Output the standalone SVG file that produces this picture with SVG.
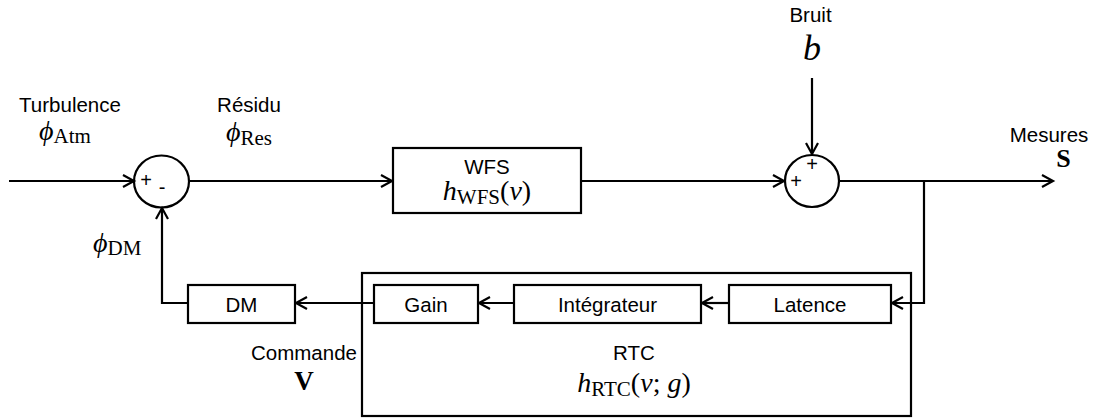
<svg xmlns="http://www.w3.org/2000/svg" width="1094" height="419" viewBox="0 0 1094 419">
<style>
.box{fill:#fff;stroke:#000;stroke-width:2.2}
.frame{fill:none;stroke:#000;stroke-width:2.2}
.ln{fill:none;stroke:#000;stroke-width:2.2}
.lab{font-family:"Liberation Sans",Arial,sans-serif;font-size:20.5px;fill:#000;text-anchor:middle}
.sg{font-family:"Liberation Sans",Arial,sans-serif;font-size:20px;fill:#000;text-anchor:middle}
.m{font-family:"Liberation Serif","DejaVu Serif",serif;font-style:italic;font-size:28px;fill:#000}
.sub{font-style:normal;font-size:21px}
.up{font-style:normal}
.bf{font-family:"Liberation Serif","DejaVu Serif",serif;font-weight:bold;font-size:26px;fill:#000;text-anchor:middle}
</style>
<defs>
<marker id="arr" markerUnits="userSpaceOnUse" markerWidth="16" markerHeight="16" refX="12" refY="7" orient="auto">
<path d="M1,1 L12,7 L1,13" fill="none" stroke="#000" stroke-width="2.2"/>
</marker>
</defs>
<rect width="1094" height="419" fill="#fff"/>

<g id="rtc">
<rect class="frame" x="362" y="273" width="549" height="143"/>
<text class="lab" x="634" y="360">RTC</text>
<text class="m" x="634" y="392" text-anchor="middle">h<tspan class="sub" dy="4">RTC</tspan><tspan class="up" dy="-4">(</tspan>ν<tspan class="up">; </tspan>g<tspan class="up">)</tspan></text>
</g>

<g id="connectors">
<line class="ln" x1="9" y1="181" x2="134" y2="181" marker-end="url(#arr)"/>
<line class="ln" x1="189" y1="181" x2="392" y2="181" marker-end="url(#arr)"/>
<line class="ln" x1="581" y1="181" x2="784" y2="181" marker-end="url(#arr)"/>
<line class="ln" x1="839" y1="181" x2="1053" y2="181" marker-end="url(#arr)"/>
<line class="ln" x1="812" y1="78" x2="812" y2="154" marker-end="url(#arr)"/>
<polyline class="ln" points="924,181 924,303 892,303" marker-end="url(#arr)"/>
<line class="ln" x1="729" y1="303" x2="702" y2="303" marker-end="url(#arr)"/>
<line class="ln" x1="514" y1="303" x2="479" y2="303" marker-end="url(#arr)"/>
<line class="ln" x1="374" y1="303" x2="296" y2="303" marker-end="url(#arr)"/>
<polyline class="ln" points="188,303 162,303 162,208" marker-end="url(#arr)"/>
</g>

<g id="sum1">
<ellipse class="ln" cx="161.5" cy="181.5" rx="27.5" ry="26"/>
<text class="sg" x="146" y="187">+</text>
<text class="sg" x="162" y="194">-</text>
</g>

<g id="sum2">
<ellipse class="ln" cx="812" cy="181" rx="27" ry="26"/>
<text class="sg" x="812" y="171">+</text>
<text class="sg" x="796" y="188">+</text>
</g>

<g id="wfs">
<rect class="box" x="393" y="148" width="188" height="65"/>
<text class="lab" x="487" y="174">WFS</text>
<text class="m" x="487" y="200" text-anchor="middle">h<tspan class="sub" dy="4">WFS</tspan><tspan class="up" dy="-4">(</tspan>ν<tspan class="up">)</tspan></text>
</g>

<g id="latence">
<rect class="box" x="729" y="285" width="162" height="38"/>
<text class="lab" x="810" y="312">Latence</text>
</g>

<g id="integrateur">
<rect class="box" x="514" y="285" width="187" height="38"/>
<text class="lab" x="607.5" y="312">Intégrateur</text>
</g>

<g id="gain">
<rect class="box" x="374" y="285" width="104" height="38"/>
<text class="lab" x="426" y="312">Gain</text>
</g>

<g id="dm">
<rect class="box" x="188" y="285" width="107" height="38"/>
<text class="lab" x="241.5" y="312">DM</text>
</g>

<g id="labels">
<text class="lab" x="70" y="112">Turbulence</text>
<text class="m" x="39" y="140">ϕ<tspan class="sub" dy="3">Atm</tspan></text>
<text class="lab" x="249" y="112">Résidu</text>
<text class="m" x="226" y="141">ϕ<tspan class="sub" dy="4">Res</tspan></text>
<text class="m" x="93" y="252">ϕ<tspan class="sub" dy="3">DM</tspan></text>
<text class="lab" x="810.5" y="22">Bruit</text>
<text class="m" x="812" y="60" text-anchor="middle" style="font-size:36px">b</text>
<text class="lab" x="1049" y="142">Mesures</text>
<text class="bf" x="1063.5" y="167">S</text>
<text class="lab" x="304" y="360">Commande</text>
<text class="bf" x="304" y="390" style="font-size:27px">V</text>
</g>
</svg>
